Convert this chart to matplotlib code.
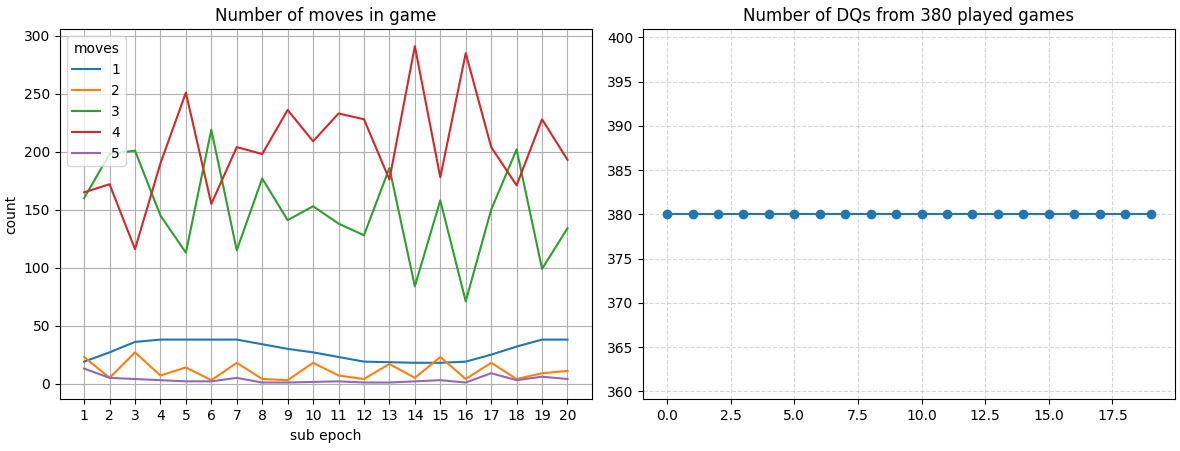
import matplotlib
matplotlib.use("Agg")
import matplotlib.pyplot as plt
import numpy as np

sub_epochs = list(range(1, 21))
moves_1 = [19, 27, 36, 38, 38, 38, 38, 34, 30, 27, 23, 19, 18.5, 18, 18, 19, 25, 32, 38, 38]
moves_2 = [23, 5, 27, 7, 14, 3, 18, 4, 3, 18, 7, 4, 17, 5, 23, 4, 18, 4, 9, 11]
moves_3 = [160, 198, 201, 145, 113, 219, 115, 177, 141, 153, 138, 128, 186, 84, 158, 71, 150, 202, 99, 134]
moves_4 = [165, 172, 116, 190, 251, 155, 204, 198, 236, 209, 233, 228, 176, 291, 178, 285, 204, 171, 228, 193]
moves_5 = [13, 5, 4, 3, 2, 2, 5, 1, 1, 1.5, 2, 1, 1, 2, 3, 1, 9, 3, 6, 4]
move_labels = ["1", "2", "3", "4", "5"]

dq_epochs = list(range(20))
dq_counts = [380] * 20

fig, (ax1, ax2) = plt.subplots(1, 2, figsize=(11.8, 4.51), dpi=100)
fig.subplots_adjust(left=0.0508, right=0.9955, bottom=0.1146, top=0.9348, wspace=0.0965)

for vals, lab in zip([moves_1, moves_2, moves_3, moves_4, moves_5], move_labels):
    ax1.plot(sub_epochs, vals, label=lab)
ax1.set_title("Number of moves in game")
ax1.set_xlabel("sub epoch")
ax1.set_ylabel("count")
ax1.set_xticks(sub_epochs)
ax1.grid(True)
ax1.legend(title="moves", loc="upper left")

ax2.plot(dq_epochs, dq_counts, marker="o")
ax2.set_title("Number of DQs from 380 played games")
ax2.grid(True, linestyle="--", alpha=0.5)

fig.savefig("out.png")
